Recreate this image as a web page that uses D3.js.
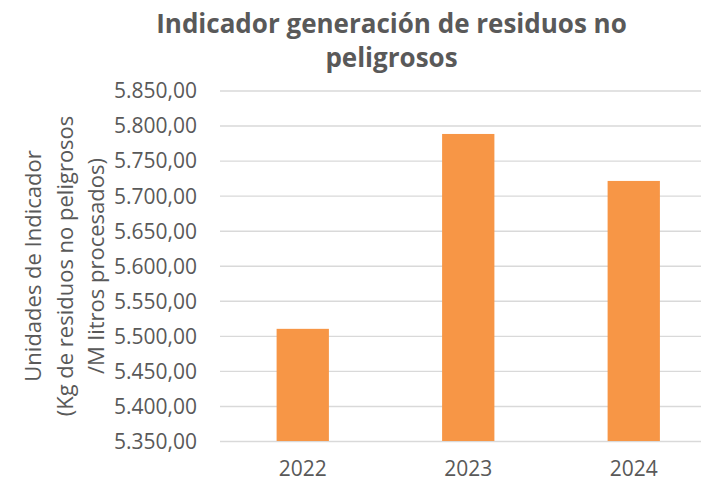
<!DOCTYPE html>
<html>
<head>
<meta charset="utf-8">
<script src="https://cdn.jsdelivr.net/npm/d3@7"></script>
<style>
    body { margin: 0; background: #ffffff; }
    svg { display: block; }
</style>
</head>
<body>
<div id="chart"></div>
<script>
// values
let years = ["2022", "2023", "2024"]
let indicatorValues = [5510, 5788, 5721]
let yTicks = [5350, 5400, 5450, 5500, 5550, 5600, 5650, 5700, 5750, 5800, 5850]
let titleLines = ["Indicador generación de residuos no", "peligrosos"]
let yTitleLines = ["Unidades de Indicador", "(Kg de residuos no peligrosos", "/M litros procesados)"]

width = 701
height = 482
textColor = "#595959"
gridColor = "#d9d9d9"
barColor = "#f79646"

plotLeft = 220
plotBottom = 441
plotTop = 90.5

esLocale = d3.formatLocale({decimal: ",", thousands: ".", grouping: [3], currency: ["", "€"]})
tickFormat = esLocale.format(",.2f")

var svg = d3.select("#chart").append("svg")
    .attr("width", width)
    .attr("height", height)

var x = d3.scaleBand()
    .domain(years)
    .range([plotLeft, 716.5])
    .paddingInner(0.684)
    .paddingOuter(0.342)

var y = d3.scaleLinear()
    .domain([5350, 5850])
    .range([plotBottom, plotTop])

// gridlines
var grid = svg.append("g")
    .attr("transform", "translate(" + plotLeft + ",0)")
    .call(d3.axisLeft(y).tickValues(yTicks).tickSize(-(width - plotLeft)).tickFormat(""))
grid.select(".domain").remove()
grid.selectAll("line")
    .attr("stroke", gridColor)
    .attr("stroke-width", 1.4)

// y tick labels
var yAxis = svg.append("g")
    .attr("transform", "translate(" + plotLeft + ",0)")
    .call(d3.axisLeft(y).tickValues(yTicks).tickFormat(tickFormat).tickSize(0).tickPadding(23))
yAxis.select(".domain").remove()
yAxis.selectAll("text")
    .attr("fill", textColor)
    .style("font-family", "'Open Sans', sans-serif")
    .style("font-size", "21px")
    .attr("dy", "0.35em")

// bars
svg.selectAll("rect.bar")
    .data(indicatorValues)
    .enter()
    .append("rect")
    .attr("class", "bar")
    .attr("x", (d, i) => x(years[i]))
    .attr("width", x.bandwidth())
    .attr("y", d => y(d))
    .attr("height", d => plotBottom - y(d))
    .attr("fill", barColor)

// x labels
var xAxis = svg.append("g")
    .attr("transform", "translate(0," + plotBottom + ")")
    .call(d3.axisBottom(x).tickSize(0).tickPadding(20))
xAxis.select(".domain").remove()
xAxis.selectAll("text")
    .attr("fill", textColor)
    .style("font-family", "'Open Sans', sans-serif")
    .style("font-size", "21px")

// title
svg.append("text")
    .attr("text-anchor", "middle")
    .attr("fill", textColor)
    .style("font-family", "'Open Sans', sans-serif")
    .style("font-size", "26px")
    .style("font-weight", "bold")
    .selectAll("tspan")
    .data(titleLines)
    .enter()
    .append("tspan")
    .attr("x", 391.5)
    .attr("y", (d, i) => 32.5 + i * 34)
    .text(d => d)

// y axis title
svg.append("g")
    .attr("transform", "translate(0,266) rotate(-90)")
    .append("text")
    .attr("text-anchor", "middle")
    .attr("fill", textColor)
    .style("font-family", "'Open Sans', sans-serif")
    .style("font-size", "22px")
    .selectAll("tspan")
    .data(yTitleLines)
    .enter()
    .append("tspan")
    .attr("x", 0)
    .attr("y", (d, i) => 41 + i * 31.5)
    .text(d => d)
</script>
</body>
</html>
